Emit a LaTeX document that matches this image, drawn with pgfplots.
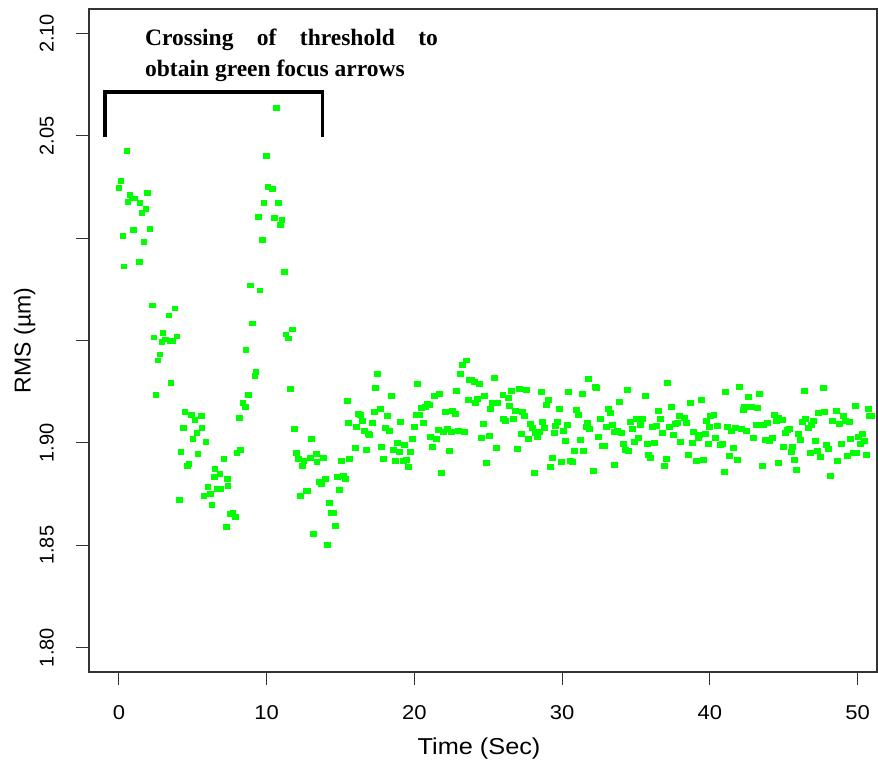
\documentclass[border=0pt]{standalone}
\usepackage{fontspec}
\setmainfont{Liberation Sans}
\newfontfamily\widesans[FakeStretch=1.1]{Liberation Sans}
\newfontfamily\notefont{Liberation Serif}
\usepackage{pgfplots}
\pgfplotsset{compat=1.18}
\definecolor{ptgreen}{RGB}{0,255,0}

% RMS samples (time in s, RMS in um)
\pgfplotstableread{
x y
0.54 2.0426
0.14 2.0279
0.00 2.0245
0.75 2.0211
1.94 2.0221
1.06 2.0193
0.88 2.0193
0.61 2.0177
1.42 2.0172
1.83 2.0143
1.56 2.0124
1.00 2.0041
2.10 2.0046
0.27 2.0012
1.69 1.9982
1.36 1.9885
0.34 1.9861
2.24 1.9671
3.79 1.9656
3.39 1.9622
2.98 1.9535
2.37 1.9515
3.93 1.9520
3.12 1.9505
2.91 1.9491
3.46 1.9496
3.66 1.9496
2.78 1.9432
2.64 1.9403
3.52 1.9291
2.51 1.9233
4.47 1.9150
4.88 1.9135
5.56 1.9130
5.15 1.9111
4.34 1.9072
5.62 1.9072
5.28 1.9048
5.01 1.9018
5.89 1.9004
4.20 1.8955
5.35 1.8945
7.11 1.8921
4.74 1.8897
4.61 1.8887
6.50 1.8872
6.84 1.8848
6.44 1.8834
7.32 1.8824
7.38 1.8790
6.03 1.8785
6.64 1.8775
6.91 1.8775
6.17 1.8751
5.76 1.8741
4.07 1.8722
6.30 1.8697
7.52 1.8653
7.25 1.8590
10.64 2.0635
9.96 2.0401
10.09 2.0250
10.37 2.0240
9.82 2.0172
10.77 2.0172
9.42 2.0104
10.50 2.0099
11.04 2.0090
10.91 2.0065
9.69 1.9992
11.18 1.9836
8.88 1.9768
9.55 1.9744
9.01 1.9583
11.72 1.9554
11.31 1.9530
11.45 1.9510
8.60 1.9452
9.28 1.9345
9.21 1.9325
8.74 1.9233
11.59 1.9262
15.45 1.9204
8.40 1.9194
8.54 1.9174
15.51 1.9096
8.13 1.9121
11.86 1.9067
13.01 1.9018
8.20 1.8965
7.99 1.8950
11.99 1.8950
12.13 1.8921
12.53 1.8911
12.94 1.8926
12.40 1.8887
13.35 1.8945
13.82 1.8926
13.41 1.8906
15.04 1.8911
15.58 1.8921
13.96 1.8824
13.55 1.8809
13.69 1.8799
14.77 1.8834
15.18 1.8838
15.31 1.8824
14.91 1.8770
12.67 1.8765
12.80 1.8765
12.26 1.8741
14.23 1.8707
14.36 1.8658
14.50 1.8658
7.72 1.8658
7.86 1.8639
14.63 1.8595
13.14 1.8556
14.09 1.8502
23.53 1.9403
23.24 1.9379
23.10 1.9335
17.48 1.9335
17.34 1.9267
20.19 1.9286
23.71 1.9306
18.43 1.9228
21.34 1.9228
21.68 1.9238
22.83 1.9252
23.64 1.9208
20.46 1.9169
20.73 1.9174
20.87 1.9189
21.00 1.9184
17.68 1.9165
17.28 1.9150
16.19 1.9140
16.33 1.9135
18.16 1.9130
20.12 1.9135
20.33 1.9135
22.09 1.9150
22.56 1.9155
22.76 1.9140
16.46 1.9106
19.04 1.9101
17.14 1.9096
20.60 1.9096
16.06 1.9077
19.99 1.9077
18.02 1.9072
18.29 1.9057
16.60 1.9057
16.87 1.9043
16.94 1.9038
21.61 1.9062
21.95 1.9053
22.22 1.9067
22.49 1.9053
22.97 1.9057
23.37 1.9053
21.07 1.9028
21.48 1.9018
19.85 1.9018
18.83 1.8999
19.31 1.8989
15.99 1.8975
16.73 1.8965
17.75 1.8980
18.56 1.8965
18.97 1.8955
19.72 1.8955
21.21 1.8980
22.36 1.8960
17.89 1.8921
18.70 1.8911
19.24 1.8911
19.44 1.8916
19.58 1.8882
21.82 1.8853
23.85 1.9306
24.05 1.9296
24.39 1.9286
25.41 1.9316
31.78 1.9311
27.10 1.9262
27.57 1.9257
26.56 1.9252
28.59 1.9247
30.42 1.9247
31.37 1.9238
24.73 1.9228
26.00 1.9233
26.36 1.9218
24.25 1.9213
24.12 1.9194
25.27 1.9194
25.61 1.9194
29.07 1.9208
28.93 1.9184
26.42 1.9179
25.14 1.9165
29.81 1.9165
26.83 1.9155
27.30 1.9150
27.44 1.9130
30.96 1.9160
31.10 1.9135
26.02 1.9116
26.15 1.9106
26.69 1.9116
24.66 1.9092
27.85 1.9092
27.98 1.9072
28.66 1.9101
28.79 1.9072
29.54 1.9082
29.67 1.9101
30.35 1.9087
30.08 1.9057
29.47 1.9048
31.71 1.9096
31.64 1.9077
31.84 1.9067
28.18 1.9048
28.46 1.9053
28.32 1.9028
27.24 1.9043
25.07 1.9033
24.53 1.9023
27.71 1.9018
30.22 1.9009
31.23 1.9014
25.54 1.8975
26.96 1.8970
30.83 1.8960
31.44 1.8960
29.34 1.8926
29.95 1.8906
30.56 1.8911
30.69 1.8906
24.86 1.8901
29.20 1.8882
28.12 1.8853
32.25 1.9272
32.32 1.9267
34.42 1.9257
37.13 1.9291
35.64 1.9228
33.88 1.9199
33.13 1.9165
33.27 1.9145
38.69 1.9194
39.43 1.9208
37.40 1.9174
36.52 1.9155
32.59 1.9116
35.03 1.9116
35.43 1.9116
36.65 1.9116
37.94 1.9130
38.28 1.9121
33.00 1.9077
33.40 1.9087
34.62 1.9101
34.76 1.9067
35.30 1.9087
36.11 1.9077
36.38 1.9082
37.26 1.9077
37.67 1.9092
37.80 1.9096
38.41 1.9096
39.77 1.9106
40.04 1.9130
39.97 1.9077
33.54 1.9053
33.74 1.9057
34.01 1.9048
36.79 1.9048
37.53 1.9038
38.89 1.9053
39.30 1.9038
39.23 1.9023
39.70 1.9043
32.45 1.9028
35.16 1.9023
34.15 1.8994
34.89 1.9004
35.77 1.8994
36.25 1.8999
38.01 1.9004
38.82 1.8999
39.91 1.8994
32.72 1.8984
32.86 1.8984
34.28 1.8965
34.49 1.8960
35.84 1.8940
35.98 1.8926
38.55 1.8940
37.06 1.8921
39.09 1.8911
39.57 1.8916
33.54 1.8892
36.92 1.8887
32.11 1.8863
42.01 1.9272
41.06 1.9247
42.62 1.9223
43.36 1.9238
46.41 1.9252
47.70 1.9267
42.34 1.9174
42.28 1.9160
42.82 1.9174
43.22 1.9169
49.86 1.9179
50.75 1.9165
48.58 1.9155
47.36 1.9145
47.76 1.9150
40.28 1.9135
44.38 1.9135
44.65 1.9121
44.92 1.9111
44.51 1.9106
49.05 1.9130
50.81 1.9130
50.95 1.9130
46.48 1.9116
46.27 1.9101
47.02 1.9106
48.31 1.9106
48.78 1.9092
49.19 1.9106
49.46 1.9101
40.55 1.9082
41.19 1.9077
41.73 1.9072
42.14 1.9067
42.48 1.9057
41.46 1.9057
43.15 1.9087
43.63 1.9087
43.90 1.9096
46.88 1.9087
46.68 1.9072
45.26 1.9062
45.39 1.9067
45.12 1.9048
46.00 1.9043
50.34 1.9043
50.07 1.9028
40.41 1.9023
42.96 1.9023
43.77 1.9014
44.04 1.9009
44.24 1.9023
46.14 1.9014
47.15 1.9009
49.53 1.9018
50.47 1.9009
50.20 1.8994
40.72 1.8989
40.85 1.8994
41.60 1.8975
44.99 1.8980
45.60 1.8980
45.53 1.8955
47.90 1.8989
48.04 1.8970
48.92 1.8994
47.29 1.8960
46.82 1.8950
47.49 1.8931
49.32 1.8936
49.73 1.8950
49.93 1.8950
50.61 1.8940
41.33 1.8936
41.87 1.8916
45.73 1.8916
48.65 1.8911
43.56 1.8887
44.65 1.8902
45.87 1.8868
40.99 1.8858
48.17 1.8838
}\rmsdata

\begin{document}
\begin{tikzpicture}
\useasboundingbox (-89pt,-91pt) rectangle (789pt,672pt);
\begin{axis}[
  scale only axis, width=788pt, height=663pt,
  xmin=-2.03, xmax=51.32, ymin=1.7881, ymax=2.1119,
  clip=false,
  axis line style={black!80, line width=1.2pt},
  tick pos=left, tick align=outside,
  major tick length=13pt,
  every tick/.style={black!80, line width=1pt},
  xtick={0,10,20,30,40,50},
  xticklabels={0,10,20,30,40,50},
  ytick={1.8,1.85,1.9,1.95,2.0,2.05,2.1},
  yticklabels={1.80,1.85,1.90,,,2.05,2.10},
  xticklabel style={font=\fontsize{20}{24}\widesans, anchor=north, inner sep=0pt},
  yticklabel style={font=\fontsize{20}{24}\selectfont, rotate=90, anchor=south, inner sep=0pt},
  xticklabel shift=20pt,
  yticklabel shift=22pt,
  xlabel={Time (Sec)},
  ylabel={RMS (µm)},
  xlabel style={font=\fontsize{23}{27}\widesans, at={(axis description cs:0.495,-0.1247)}, anchor=base},
  ylabel style={font=\fontsize{23}{27}\selectfont, at={(axis description cs:-0.0741,0.5)}, anchor=base},
]
\addplot[only marks, mark=square*, mark size=2.35pt, color=ptgreen,
  mark options={xscale=1.25, line width=0pt}] table {\rmsdata};

% bracket and note
\draw[line width=3.5pt, black] (axis cs:-0.93,2.0494) |- (axis cs:13.79,2.0713) -- (axis cs:13.79,2.0494);
\node[anchor=base west, inner sep=0pt, font=\fontsize{23.5}{28}\notefont\bfseries]
  at (axis cs:1.76,2.0939) {\makebox[292.7pt][s]{Crossing of threshold to}};
\node[anchor=base west, inner sep=0pt, font=\fontsize{23.5}{28}\notefont\bfseries]
  at (axis cs:1.76,2.0788) {obtain green focus arrows};
\end{axis}
\end{tikzpicture}
\end{document}
